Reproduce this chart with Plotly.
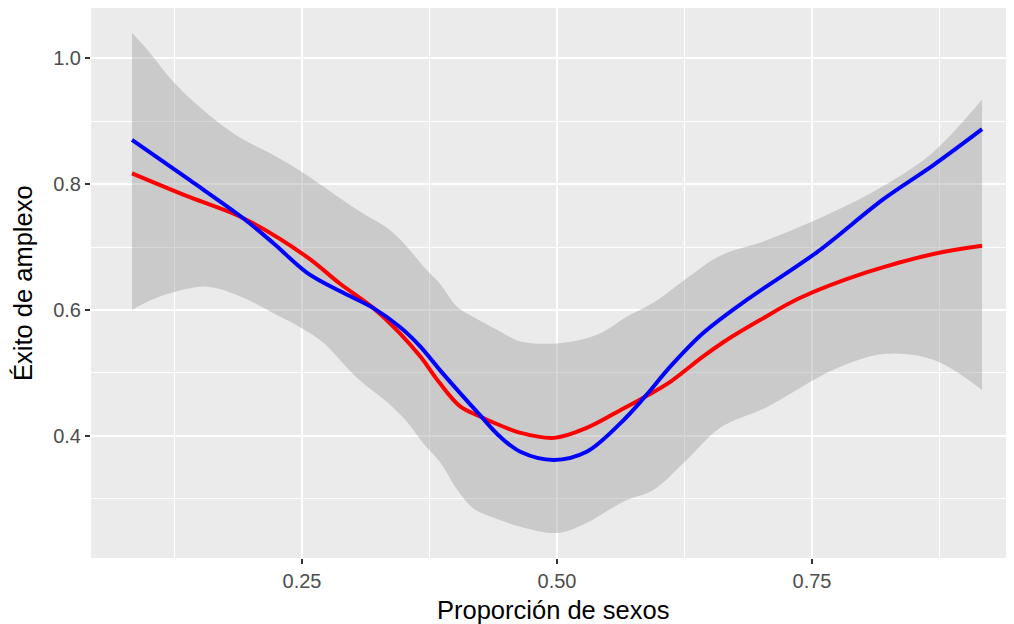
import plotly.graph_objects as go

# Red smoothed curve
x_red = [0.0833, 0.14, 0.192, 0.255, 0.287, 0.32, 0.346, 0.366, 0.385, 0.405, 0.4245, 0.444,
         0.464, 0.497, 0.529, 0.562, 0.586, 0.611, 0.643, 0.666, 0.699, 0.738, 0.804, 0.869, 0.9167]
y_red = [0.817, 0.779, 0.746, 0.684, 0.642, 0.603, 0.563, 0.526, 0.484, 0.447, 0.431, 0.417,
         0.405, 0.397, 0.413, 0.441, 0.462, 0.486, 0.526, 0.552, 0.584, 0.619, 0.660, 0.689, 0.702]

# Blue smoothed curve
x_blue = [0.0833, 0.14, 0.192, 0.222, 0.255, 0.287, 0.32, 0.346, 0.366, 0.385, 0.405, 0.4245,
          0.444, 0.464, 0.497, 0.529, 0.562, 0.586, 0.611, 0.643, 0.686, 0.755, 0.82, 0.869, 0.9167]
y_blue = [0.870, 0.806, 0.746, 0.706, 0.659, 0.630, 0.603, 0.573, 0.542, 0.505, 0.468, 0.433,
          0.399, 0.375, 0.362, 0.375, 0.420, 0.462, 0.510, 0.563, 0.616, 0.692, 0.776, 0.830, 0.887]

# Confidence band
x_band = [0.0833, 0.101, 0.124, 0.157, 0.189, 0.222, 0.251, 0.271, 0.304, 0.336, 0.353, 0.369,
          0.385, 0.402, 0.418, 0.442, 0.464, 0.5, 0.529, 0.545, 0.568, 0.594, 0.627, 0.66,
          0.706, 0.771, 0.82, 0.869, 0.9167]
y_upper = [1.040, 1.008, 0.962, 0.912, 0.874, 0.846, 0.818, 0.796, 0.759, 0.727, 0.700, 0.669,
           0.642, 0.605, 0.589, 0.568, 0.550, 0.547, 0.555, 0.565, 0.589, 0.611, 0.650, 0.686,
           0.711, 0.756, 0.797, 0.851, 0.934]
y_lower = [0.600, 0.615, 0.628, 0.637, 0.622, 0.595, 0.570, 0.548, 0.492, 0.450, 0.422, 0.388,
           0.359, 0.315, 0.285, 0.268, 0.256, 0.246, 0.262, 0.277, 0.298, 0.314, 0.362, 0.413,
           0.446, 0.505, 0.530, 0.521, 0.473]

x_ticks = [0.25, 0.50, 0.75]
x_ticktext = ["0.25", "0.50", "0.75"]
x_minor = [0.125, 0.375, 0.625, 0.875]
y_ticks = [0.4, 0.6, 0.8, 1.0]
y_ticktext = ["0.4", "0.6", "0.8", "1.0"]
y_minor = [0.3, 0.5, 0.7, 0.9]

FONT = "Liberation Sans, Arial, sans-serif"

fig = go.Figure()
fig.add_trace(go.Scatter(x=x_band, y=y_lower, mode="lines", line=dict(width=0, shape="spline"),
                         showlegend=False, hoverinfo="skip"))
fig.add_trace(go.Scatter(x=x_band, y=y_upper, mode="lines", line=dict(width=0, shape="spline"),
                         fill="tonexty", fillcolor="rgba(153,153,153,0.4)",
                         showlegend=False, hoverinfo="skip"))
fig.add_trace(go.Scatter(x=x_red, y=y_red, mode="lines",
                         line=dict(color="#FF0000", width=4, shape="spline"), showlegend=False))
fig.add_trace(go.Scatter(x=x_blue, y=y_blue, mode="lines",
                         line=dict(color="#0000FF", width=4, shape="spline"), showlegend=False))

axis_common = dict(
    showline=False, zeroline=False, automargin=False,
    gridcolor="#FFFFFF", gridwidth=2,
    ticks="outside", ticklen=5, tickwidth=1.5, tickcolor="#333333",
    tickfont=dict(family=FONT, size=20, color="#4D4D4D"),
)

fig.update_layout(
    width=1006, height=616,
    margin=dict(l=83, r=0, t=0, b=66),
    paper_bgcolor="#FFFFFF", plot_bgcolor="#EBEBEB",
    xaxis=dict(range=[0.0431, 0.948], tickvals=x_ticks, ticktext=x_ticktext,
               minor=dict(tickvals=x_minor, showgrid=True, gridcolor="#FFFFFF", gridwidth=1, ticks=""),
               **axis_common),
    yaxis=dict(range=[0.2063, 1.0794], tickvals=y_ticks, ticktext=y_ticktext,
               minor=dict(tickvals=y_minor, showgrid=True, gridcolor="#FFFFFF", gridwidth=1, ticks=""),
               **axis_common),
    annotations=[
        dict(text="Proporción de sexos", xref="paper", yref="paper", x=0.5, y=0.0, yshift=-36,
             xanchor="center", yanchor="top", showarrow=False,
             font=dict(family=FONT, size=25.5, color="#000000")),
        dict(text="Éxito de amplexo", xref="paper", yref="paper", x=0, xshift=-84, y=0.5,
             xanchor="left", yanchor="middle", textangle=-90, showarrow=False,
             font=dict(family=FONT, size=25.5, color="#000000")),
    ],
)

fig.write_html("out.html")
